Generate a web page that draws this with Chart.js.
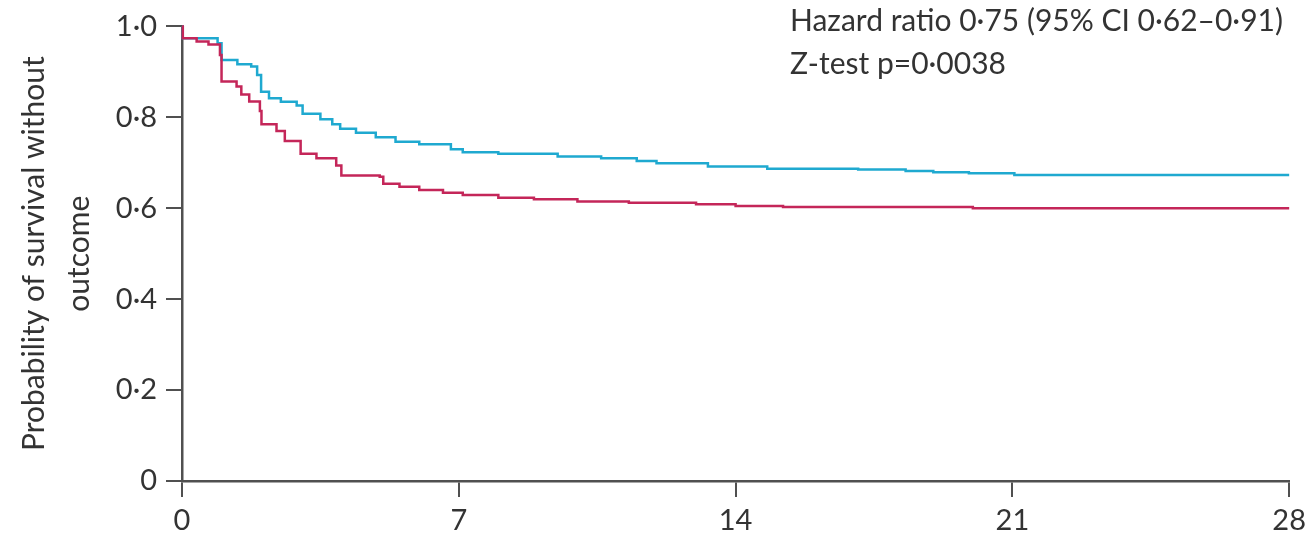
<!DOCTYPE html>
<html>
<head>
<meta charset="utf-8">
<script src="https://cdn.jsdelivr.net/npm/chart.js@4/dist/chart.umd.min.js"></script>
<style>
  html, body { margin: 0; padding: 0; background: #fff; }
  #wrap { width: 1312px; height: 534px; position: relative; }
</style>
</head>
<body>
<div id="wrap"><canvas id="c" width="1312" height="534"></canvas></div>
<script>
// ---- data ----
const xTicks = [0, 7, 14, 21, 28];
const yTicks = [0, 0.2, 0.4, 0.6, 0.8, 1.0];
const yTickLabels = ['0', '0·2', '0·4', '0·6', '0·8', '1·0'];

const blueTime = [0, 0.02, 0.9, 1.0, 1.4, 1.75, 1.9, 2.0, 2.2, 2.5, 2.9, 3.05, 3.5, 3.8, 4.0, 4.4, 4.9, 5.4, 6.0, 6.8, 7.1, 8.0, 9.5, 10.6, 11.5, 12.0, 13.3, 14.8, 17.1, 18.3, 19.0, 19.9, 21.05, 28];
const blueSurv = [1.0, 0.974, 0.963, 0.926, 0.917, 0.912, 0.893, 0.856, 0.842, 0.834, 0.826, 0.808, 0.796, 0.785, 0.775, 0.766, 0.756, 0.746, 0.741, 0.730, 0.723, 0.720, 0.714, 0.710, 0.704, 0.699, 0.692, 0.687, 0.685, 0.682, 0.679, 0.677, 0.673, 0.673];

const redTime = [0, 0.02, 0.37, 0.67, 0.96, 1.0, 1.38, 1.5, 1.7, 1.97, 2.01, 2.39, 2.6, 3.0, 3.4, 3.9, 4.03, 5.0, 5.09, 5.5, 6.0, 6.6, 7.1, 8.0, 8.9, 10.0, 11.3, 13.0, 14.0, 15.2, 20.0, 28];
const redSurv = [1.0, 0.974, 0.967, 0.960, 0.937, 0.879, 0.868, 0.850, 0.835, 0.814, 0.785, 0.770, 0.748, 0.720, 0.710, 0.694, 0.672, 0.669, 0.654, 0.647, 0.640, 0.634, 0.629, 0.623, 0.620, 0.615, 0.612, 0.609, 0.605, 0.603, 0.600, 0.600];

const annotationLines = ['Hazard ratio 0·75 (95% CI 0·62–0·91)', 'Z-test p=0·0038'];
const yTitleLines = ['Probability of survival without', 'outcome'];

const BLUE = '#1fa9d0';
const RED = '#c42659';
const AXIS = '#505050';
const TEXT = '#333333';
const FONT = 'Lato';

function pts(xs, ys) { return xs.map((x, i) => ({ x: x, y: ys[i] })); }

const annotationPlugin = {
  id: 'annot',
  afterDraw(chart) {
    const ctx = chart.ctx;
    ctx.save();
    ctx.fillStyle = TEXT;
    ctx.font = '30px ' + FONT;
    ctx.textAlign = 'left';
    ctx.textBaseline = 'middle';
    ctx.fillText(annotationLines[0], 790, 21);
    ctx.fillText(annotationLines[1], 790, 64);
    ctx.restore();
  }
};

new Chart(document.getElementById('c'), {
  type: 'scatter',
  data: {
    datasets: [
      { data: pts(redTime, redSurv), showLine: true, stepped: true, borderColor: RED, borderWidth: 2.5, pointRadius: 0, fill: false, clip: false },
      { data: pts(blueTime, blueSurv), showLine: true, stepped: true, borderColor: BLUE, borderWidth: 2.5, pointRadius: 0, fill: false, clip: false }
    ]
  },
  options: {
    responsive: false,
    animation: false,
    events: [],
    layout: { padding: { top: 21, right: 22, left: 0, bottom: 0 } },
    plugins: { legend: { display: false }, tooltip: { enabled: false } },
    scales: {
      x: {
        type: 'linear', min: 0, max: 28,
        afterBuildTicks(scale) { scale.ticks = xTicks.map(v => ({ value: v })); },
        afterFit(scale) { scale.height = 53; },
        border: { display: true, color: AXIS, width: 2.5 },
        grid: { display: true, drawOnChartArea: false, drawTicks: true, tickLength: 16, color: AXIS, lineWidth: 2 },
        ticks: { padding: 6, color: TEXT, font: { family: FONT, size: 29 }, maxRotation: 0, autoSkip: false }
      },
      y: {
        type: 'linear', min: 0, max: 1,
        afterBuildTicks(scale) { scale.ticks = yTicks.map(v => ({ value: v })); },
        afterFit(scale) { scale.width = 182; },
        border: { display: true, color: AXIS, width: 2.5 },
        grid: { display: true, drawOnChartArea: false, drawTicks: true, tickLength: 16, color: AXIS, lineWidth: 2 },
        ticks: {
          padding: 9, color: TEXT, font: { family: FONT, size: 29 }, autoSkip: false,
          callback(v) { const i = yTicks.findIndex(t => Math.abs(t - v) < 1e-9); return i >= 0 ? yTickLabels[i] : ''; }
        },
        title: { display: true, text: yTitleLines, color: TEXT, font: { family: FONT, size: 30, lineHeight: '45px' }, padding: { top: 12, bottom: 0 } }
      }
    }
  },
  plugins: [annotationPlugin]
});
</script>
</body>
</html>
